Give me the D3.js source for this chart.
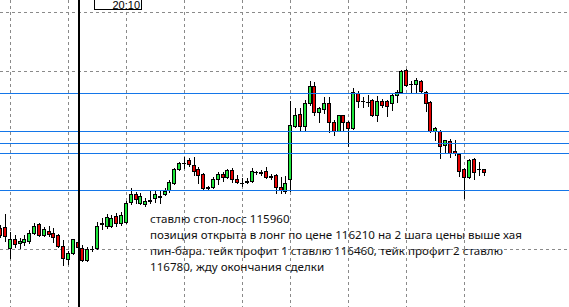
<!DOCTYPE html>
<html>
<head>
<meta charset="utf-8">
<script src="https://cdn.jsdelivr.net/npm/d3@7/dist/d3.min.js"></script>
<style>
  html, body { margin: 0; padding: 0; background: #fff; overflow: hidden; }
</style>
</head>
<body>
<div id="chart"></div>
<script>
// 5-minute bars, two sessions (evening 18:50-23:45, next morning from 10:00)
const openPrices = [
  115640, 115650, 115470, 115545, 115515, 115520, 115530, 115600, 115675, 115580,
  115615, 115600, 115580, 115490, 115380, 115430, 115520, 115470, 115370, 115460,
  115470, 115675, 115655, 115655, 115740, 115680, 115690, 115860, 115925, 115850,
  115840, 115865, 115890, 115900, 115925, 115960, 116020, 116135, 116190, 116215,
  116170, 116135, 116095, 115985, 115985, 116055, 116095, 116070, 116130, 116055,
  116020, 116035, 116035, 116110, 116110, 116120, 116080, 116085, 115985, 115950,
  116055, 116500, 116600, 116500, 116695, 116835, 116615, 116645, 116695, 116535,
  116455, 116590, 116535, 116480, 116775, 116710, 116705, 116720, 116590, 116710,
  116710, 116695, 116760, 116785, 116970, 116855, 116855, 116880, 116785, 116700,
  116455, 116455, 116340, 116375, 116290, 116265, 116135, 116070, 116220, 116135,
  116135
];
const highPrices = [
  115665, 115760, 115605, 115580, 115555, 115580, 115625, 115680, 115680, 115650,
  115655, 115640, 115590, 115540, 115445, 115550, 115555, 115495, 115480, 115490,
  115690, 115725, 115760, 115750, 115765, 115775, 115865, 115975, 115945, 115935,
  115890, 115960, 115960, 115950, 115975, 116045, 116145, 116195, 116240, 116230,
  116240, 116155, 116105, 115995, 116070, 116110, 116110, 116135, 116145, 116085,
  116060, 116060, 116145, 116120, 116130, 116155, 116095, 116095, 116070, 116080,
  116710, 116650, 116650, 116720, 116880, 116870, 116660, 116745, 116745, 116550,
  116590, 116590, 116540, 116820, 116795, 116745, 116760, 116725, 116750, 116725,
  116720, 116775, 116805, 116970, 116980, 116880, 116905, 116885, 116795, 116710,
  116490, 116465, 116380, 116390, 116380, 116265, 116145, 116220, 116230, 116195,
  116135
];
const lowPrices = [
  115565, 115530, 115385, 115480, 115470, 115495, 115515, 115590, 115570, 115570,
  115570, 115520, 115480, 115330, 115335, 115420, 115455, 115360, 115360, 115445,
  115465, 115630, 115640, 115650, 115655, 115665, 115680, 115840, 115850, 115840,
  115825, 115850, 115860, 115850, 115920, 115945, 116010, 116130, 116145, 116160,
  116085, 116020, 115970, 115970, 115975, 116010, 116035, 116060, 116025, 116020,
  115995, 116020, 116025, 116095, 116085, 116060, 116055, 115935, 115935, 115935,
  115950, 116490, 116465, 116465, 116675, 116590, 116535, 116610, 116450, 116425,
  116455, 116465, 116330, 116475, 116660, 116660, 116670, 116585, 116540, 116660,
  116585, 116635, 116700, 116775, 116835, 116775, 116785, 116785, 116625, 116450,
  116380, 116230, 116270, 116240, 116255, 116080, 115890, 116060, 116055, 116085,
  116085
];
const closePrices = [
  115580, 115570, 115545, 115505, 115530, 115545, 115600, 115655, 115580, 115630,
  115590, 115565, 115490, 115385, 115430, 115545, 115480, 115370, 115465, 115460,
  115655, 115680, 115730, 115725, 115680, 115750, 115850, 115925, 115885, 115910,
  115865, 115875, 115925, 115910, 115950, 116025, 116135, 116185, 116190, 116180,
  116120, 116085, 115975, 115975, 116055, 116095, 116070, 116130, 116055, 116025,
  116020, 116025, 116120, 116110, 116105, 116070, 116070, 115985, 115960, 116020,
  116510, 116590, 116500, 116695, 116835, 116615, 116650, 116695, 116535, 116455,
  116590, 116535, 116480, 116785, 116710, 116710, 116705, 116590, 116710, 116675,
  116670, 116760, 116785, 116965, 116845, 116855, 116885, 116795, 116695, 116455,
  116480, 116330, 116380, 116270, 116270, 116120, 116070, 116215, 116110, 116135,
  116110
];

// horizontal levels (stop, TP1, TP2 and two more)
const levelPrices = [116780, 116460, 116355, 116270, 115960];
// price grid
const gridPrices = [115460, 115960, 116460, 116960, 117460];
const cursorTime = "20:10";

const noteLines = [
  "ставлю стоп-лосс 115960",
  "позиция открыта в лонг по цене 116210 на 2 шага цены выше хая",
  "пин-бара. тейк профит 1 ставлю 116460, тейк профит 2 ставлю",
  "116780, жду окончания сделки"
];

function session(start, count) {
  const [h, m] = start.split(":").map(Number);
  const f = d3.format("02");
  return d3.range(count).map(k => {
    const t = h * 60 + m + 5 * k;
    return f(Math.floor(t / 60)) + ":" + f(t % 60);
  });
}
const times = session("18:50", 60).concat(session("10:00", 41));

const bars = times.map((t, i) => ({
  time: t, i: i,
  o: openPrices[i], h: highPrices[i], l: lowPrices[i], c: closePrices[i]
}));

const width = 569;
const height = 307;

const x = d3.scaleLinear().domain([0, times.length - 1]).range([0.33, 483.6]);
const y = d3.scaleLinear().domain([114974, 117561]).range([height, 0]);

const upColor = "#1ee63c";
const downColor = "#e60000";
const lineColor = "#1476e8";
const gridColor = "#8a8a8a";

const svg = d3.select("#chart").append("svg")
  .attr("width", width)
  .attr("height", height)
  .style("display", "block");

svg.append("rect").attr("width", width).attr("height", height).attr("fill", "#fff");

// annotation text (sits under the grid)
const note = svg.append("g")
  .attr("font-family", "'Noto Sans', 'Open Sans', sans-serif")
  .attr("font-size", "12px")
  .attr("fill", "#111");
note.selectAll("text")
  .data(noteLines)
  .join("text")
  .attr("x", 150)
  .attr("y", (d, i) => 223 + i * 16)
  .text(d => d);
// fit the long line to the width it takes in the terminal
const longest = note.selectAll("text").nodes()[1].getComputedTextLength();
note.attr("font-size", (12 * 372 / longest).toFixed(2) + "px");

// grid
const grid = svg.append("g")
  .attr("stroke", gridColor)
  .attr("stroke-width", 1)
  .attr("stroke-dasharray", "3,3")
  .attr("shape-rendering", "crispEdges");

grid.selectAll("line.h")
  .data(gridPrices)
  .join("line")
  .attr("class", "h")
  .attr("x1", 0).attr("x2", width)
  .attr("y1", d => Math.round(y(d)) + 0.5)
  .attr("y2", d => Math.round(y(d)) + 0.5);

grid.selectAll("line.v")
  .data(bars.filter(b => b.time.endsWith(":00")))
  .join("line")
  .attr("class", "v")
  .attr("y1", 0).attr("y2", height)
  .attr("x1", d => Math.round(x(d.i)) + 0.5)
  .attr("x2", d => Math.round(x(d.i)) + 0.5);

// candles
const candles = svg.append("g").attr("shape-rendering", "crispEdges");
const px = d => Math.round(x(d.i));

candles.selectAll("line.wick")
  .data(bars)
  .join("line")
  .attr("class", "wick")
  .attr("stroke", "#000")
  .attr("x1", d => px(d) + 0.5).attr("x2", d => px(d) + 0.5)
  .attr("y1", d => Math.round(y(d.h)))
  .attr("y2", d => Math.round(y(d.l)) + 1);

candles.selectAll("rect.body")
  .data(bars.filter(d => d.o !== d.c))
  .join("rect")
  .attr("class", "body")
  .attr("fill", d => d.c > d.o ? upColor : downColor)
  .attr("stroke", "#000")
  .attr("x", d => px(d) - 1.5)
  .attr("width", 3)
  .attr("y", d => Math.round(y(Math.max(d.o, d.c))) + 0.5)
  .attr("height", d => Math.max(1, Math.round(y(Math.min(d.o, d.c))) - Math.round(y(Math.max(d.o, d.c)))));

candles.selectAll("line.doji")
  .data(bars.filter(d => d.o === d.c))
  .join("line")
  .attr("class", "doji")
  .attr("stroke", "#000")
  .attr("x1", d => px(d) - 2).attr("x2", d => px(d) + 2)
  .attr("y1", d => Math.round(y(d.o)) + 0.5)
  .attr("y2", d => Math.round(y(d.o)) + 0.5);

// horizontal levels
svg.append("g")
  .attr("stroke", lineColor)
  .attr("stroke-width", 1)
  .attr("shape-rendering", "crispEdges")
  .selectAll("line")
  .data(levelPrices)
  .join("line")
  .attr("x1", 0).attr("x2", width)
  .attr("y1", d => Math.round(y(d)) + 0.5)
  .attr("y2", d => Math.round(y(d)) + 0.5);

// crosshair at the cursor bar
const cursorBar = bars.find(b => b.time === cursorTime);
const cx = Math.round(x(cursorBar.i));
svg.append("line")
  .attr("x1", cx + 0.5).attr("x2", cx + 0.5)
  .attr("y1", 0).attr("y2", height)
  .attr("stroke", "#000")
  .attr("stroke-width", 2)
  .attr("shape-rendering", "crispEdges");

// time label box
const label = svg.append("g");
label.append("rect")
  .attr("x", cx + 16.5).attr("y", -1.5)
  .attr("width", 47).attr("height", 11)
  .attr("fill", "#fff")
  .attr("stroke", "#000")
  .attr("shape-rendering", "crispEdges");
label.append("text")
  .attr("x", cx + 62).attr("y", 8.5)
  .attr("text-anchor", "end")
  .attr("font-family", "'Liberation Sans', Arial, sans-serif")
  .attr("font-size", "11px")
  .attr("fill", "#000")
  .text(cursorTime);
</script>
</body>
</html>
